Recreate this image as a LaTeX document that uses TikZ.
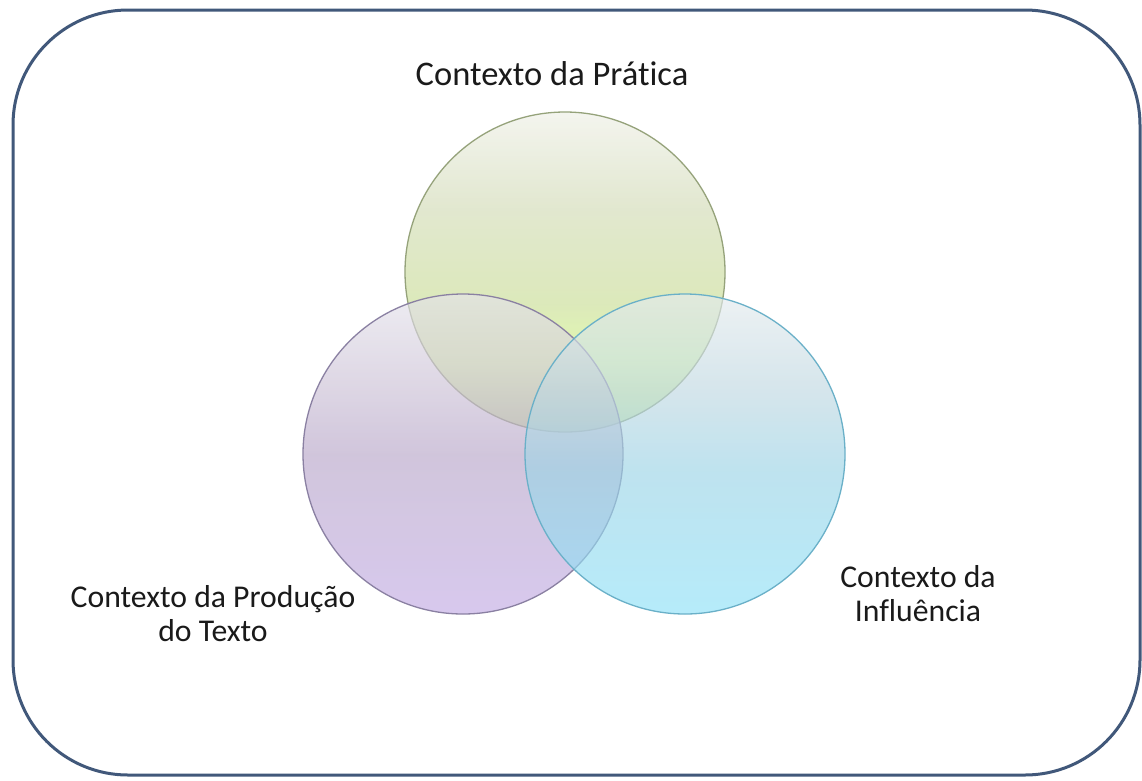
\documentclass[tikz,border=0pt]{standalone}
\usepackage{fontspec}
\setmainfont{Carlito}[Ligatures={NoCommon}]
\begin{document}
\definecolor{frame}{HTML}{41587A}
\definecolor{txt}{HTML}{1A1A1A}
% green
\definecolor{gT}{rgb}{0.934,0.940,0.903}
\definecolor{gA}{rgb}{0.825,0.860,0.715}
\definecolor{gB}{rgb}{0.790,0.870,0.590}
\definecolor{gC}{rgb}{0.825,0.975,0.515}
\definecolor{gD}{rgb}{0.760,0.895,0.510}
% purple
\definecolor{pT}{rgb}{0.897,0.891,0.922}
\definecolor{pA}{rgb}{0.795,0.752,0.837}
\definecolor{pB}{rgb}{0.723,0.655,0.789}
\definecolor{pD}{rgb}{0.765,0.674,0.897}
% cyan
\definecolor{cT}{rgb}{0.897,0.921,0.934}
\definecolor{cA}{rgb}{0.752,0.849,0.885}
\definecolor{cB}{rgb}{0.614,0.831,0.903}
\definecolor{cD}{rgb}{0.560,0.885,0.975}
\definecolor{gline}{HTML}{95A27A}
\definecolor{pline}{HTML}{8A80A2}
\definecolor{cline}{HTML}{6AB0C8}
\pgfdeclareverticalshading{greensh}{100bp}{color(0bp)=(gD); color(25bp)=(gD); color(36bp)=(gC); color(45bp)=(gB); color(60bp)=(gA); color(75bp)=(gT); color(100bp)=(gT)}
\pgfdeclareverticalshading{purplesh}{100bp}{color(0bp)=(pD); color(25bp)=(pD); color(50bp)=(pB); color(60bp)=(pA); color(75bp)=(pT); color(100bp)=(pT)}
\pgfdeclareverticalshading{cyansh}{100bp}{color(0bp)=(cD); color(25bp)=(cD); color(47.5bp)=(cB); color(60bp)=(cA); color(75bp)=(cT); color(100bp)=(cT)}
\begin{tikzpicture}[x=1pt,y=-1pt,
  lbl/.style={font=\fontsize{31.7}{34}\selectfont, text=txt, inner sep=0pt, align=center},
  ring/.style={circle, minimum size=320pt, inner sep=0pt, fill opacity=0.65, line width=1.3pt}]
\useasboundingbox (0,0) rectangle (1142,780);
\fill[white] (0,0) rectangle (1142,780);
\draw[frame, line width=3pt, rounded corners=115pt] (13,10) rectangle (1140,775);
\node[ring, shading=greensh, draw=gline] (pratica) at (565,272) {};
\node[ring, shading=purplesh, draw=pline] (producao) at (463,454) {};
\node[ring, shading=cyansh, draw=cline] (influencia) at (685,454) {};
\node[lbl, font=\fontsize{34.5}{36}\selectfont, anchor=base] (tpratica) at (552,85) {Contexto da Prática};
\node[lbl, anchor=base] (tproducao) at (213,641) {Contexto da Produção\\do Texto};
\node[lbl, anchor=base] (tinfluencia) at (918,621) {Contexto da\\Influência};
\end{tikzpicture}
\end{document}
